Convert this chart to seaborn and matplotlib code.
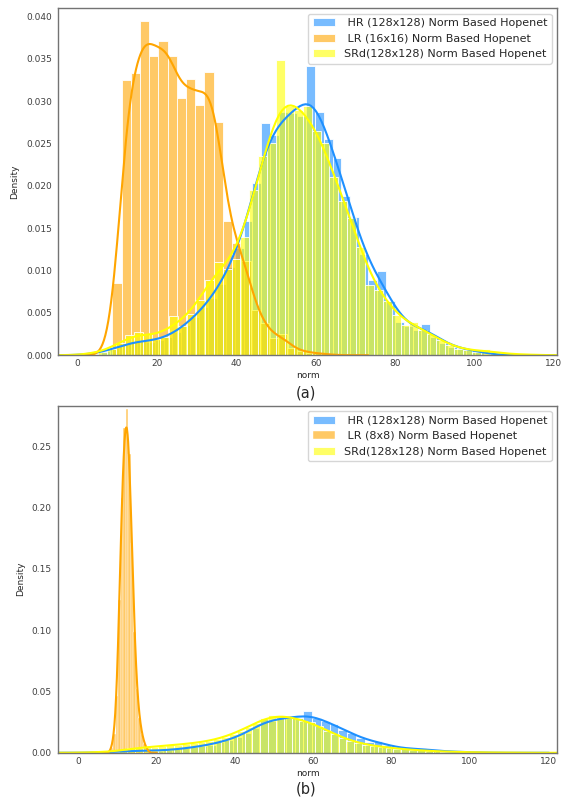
import numpy as np
import pandas as pd
import matplotlib
matplotlib.use("Agg")
import matplotlib.pyplot as plt
import seaborn as sns

# Histogram densities (bin start, bin width, bar heights)

# HR (128x128) - same data in both panels
hr_start, hr_width = 1.5, 2.24
hr_density = [0.0001, 0.0002, 0.0005, 0.0008, 0.0012, 0.0016, 0.0018, 0.0016, 0.0018, 0.0022,
              0.0028, 0.0036, 0.0045, 0.0057, 0.0068, 0.0085, 0.0105, 0.0128, 0.0160, 0.0205,
              0.0276, 0.0262, 0.0290, 0.0289, 0.0285, 0.0344, 0.0290, 0.0258, 0.0235, 0.0190,
              0.0165, 0.0120, 0.0090, 0.0100, 0.0065, 0.0040, 0.0035, 0.0030, 0.0037, 0.0022,
              0.0015, 0.0010, 0.0008, 0.0006, 0.0004, 0.0002]

# LR (16x16) - panel (a)
lr16_start, lr16_width = 8.77, 2.32
lr16_density = [0.0084, 0.0320, 0.0328, 0.0389, 0.0348, 0.0366, 0.0348, 0.0299, 0.0322, 0.0291,
                0.0330, 0.0271, 0.0156, 0.0131, 0.0110, 0.0053, 0.0038, 0.0020, 0.0025, 0.0008,
                0.0005, 0.0003, 0.0002, 0.0001]

# SRd (128x128) from 16x16 - panel (a)
srd16_start, srd16_width = 0.72, 2.24
srd16_density = [0.0001, 0.0002, 0.0004, 0.0008, 0.0015, 0.0024, 0.0028, 0.0026, 0.0020, 0.0022,
                 0.0047, 0.0035, 0.0050, 0.0067, 0.0091, 0.0112, 0.0104, 0.0116, 0.0142, 0.0199,
                 0.0240, 0.0255, 0.0355, 0.0300, 0.0295, 0.0300, 0.0270, 0.0255, 0.0215, 0.0186,
                 0.0165, 0.0130, 0.0085, 0.0078, 0.0065, 0.0048, 0.0036, 0.0040, 0.0030, 0.0025,
                 0.0018, 0.0012, 0.0008, 0.0006, 0.0004, 0.0008, 0.0003, 0.0002, 0.0001, 0.0001,
                 0.0001]

# LR (8x8) - panel (b)
lr8_start, lr8_width = 8.3, 0.64
lr8_density = [0.004, 0.015, 0.045, 0.120, 0.200, 0.255, 0.270, 0.235, 0.165, 0.095,
               0.050, 0.027, 0.015, 0.007, 0.003]

# SRd (128x128) from 8x8 - panel (b)
srd8_start, srd8_width = 0.5, 2.0
srd8_density = [0.0003, 0.0004, 0.0005, 0.0007, 0.0010, 0.0020, 0.0035, 0.0042, 0.0045, 0.0050,
                0.0055, 0.0060, 0.0066, 0.0072, 0.0078, 0.0085, 0.0095, 0.0108, 0.0125, 0.0150,
                0.0178, 0.0210, 0.0245, 0.0285, 0.0310, 0.0305, 0.0300, 0.0285, 0.0260, 0.0250,
                0.0215, 0.0180, 0.0150, 0.0120, 0.0095, 0.0078, 0.0065, 0.0055, 0.0048, 0.0040,
                0.0034, 0.0028, 0.0023, 0.0019, 0.0015, 0.0012, 0.0010, 0.0008, 0.0006, 0.0005,
                0.0004, 0.0003, 0.0003, 0.0002, 0.0002, 0.0001, 0.0001, 0.0001]


def hist_kde(ax, start, width, density, color, label, bw, edge_lw=0.6):
    # rebuild the binned histogram and let seaborn draw bars + kde
    n = len(density)
    df = pd.DataFrame({"norm": start + width * (np.arange(n) + 0.5),
                       "w": density})
    sns.histplot(data=df, x="norm", weights="w",
                 binwidth=width, binrange=(start, start + width * n),
                 stat="density", kde=True, kde_kws={"bw_adjust": bw, "cut": 3},
                 color=color, alpha=0.6, edgecolor="white", linewidth=edge_lw,
                 line_kws={"linewidth": 1.5}, label=label, ax=ax)


def style_axes(ax, xlim, ylim):
    ax.set_xlim(*xlim)
    ax.set_ylim(*ylim)
    ax.set_xticks([0, 20, 40, 60, 80, 100, 120])
    ax.set_xlabel("norm", fontsize=6.5, labelpad=2)
    ax.set_ylabel("Density", fontsize=6.5, labelpad=5)
    ax.tick_params(axis="x", length=0, labelsize=6.5, colors="0.25", pad=3)
    ax.tick_params(axis="y", length=0, labelsize=6.5, colors="0.25", pad=4.5)
    for s in ax.spines.values():
        s.set_color("0.45")
        s.set_linewidth(1.0)
    ax.legend(loc="upper right", fontsize=8, frameon=True)


def main():
    sns.set_style("white")
    plt.rcParams["font.family"] = ["DejaVu Sans"]

    fig = plt.figure(figsize=(5.75, 8), dpi=100)
    ax1 = fig.add_axes([0.101, 0.556, 0.868, 0.434])
    ax2 = fig.add_axes([0.101, 0.059, 0.868, 0.434])

    # panel (a): 16x16
    hist_kde(ax1, hr_start, hr_width, hr_density, "dodgerblue", " HR (128x128) Norm Based Hopenet", 0.4)
    hist_kde(ax1, lr16_start, lr16_width, lr16_density, "orange", " LR (16x16) Norm Based Hopenet", 0.38)
    hist_kde(ax1, srd16_start, srd16_width, srd16_density, "yellow", "SRd(128x128) Norm Based Hopenet", 0.4)
    style_axes(ax1, (-4.9, 120.8), (0, 0.041))

    # panel (b): 8x8
    hist_kde(ax2, hr_start, hr_width, hr_density, "dodgerblue", " HR (128x128) Norm Based Hopenet", 0.4)
    hist_kde(ax2, lr8_start, lr8_width, lr8_density, "orange", " LR (8x8) Norm Based Hopenet", 0.5, edge_lw=0.3)
    hist_kde(ax2, srd8_start, srd8_width, srd8_density, "yellow", "SRd(128x128) Norm Based Hopenet", 0.4)
    style_axes(ax2, (-5.1, 122.3), (0, 0.283))

    fig.text(0.532, 1 - 392.5 / 800, "(a)", ha="center", va="center", fontsize=10.5)
    fig.text(0.532, 1 - 789 / 800, "(b)", ha="center", va="center", fontsize=10.5)

    fig.savefig("out.png", dpi=100)


if __name__ == "__main__":
    main()
